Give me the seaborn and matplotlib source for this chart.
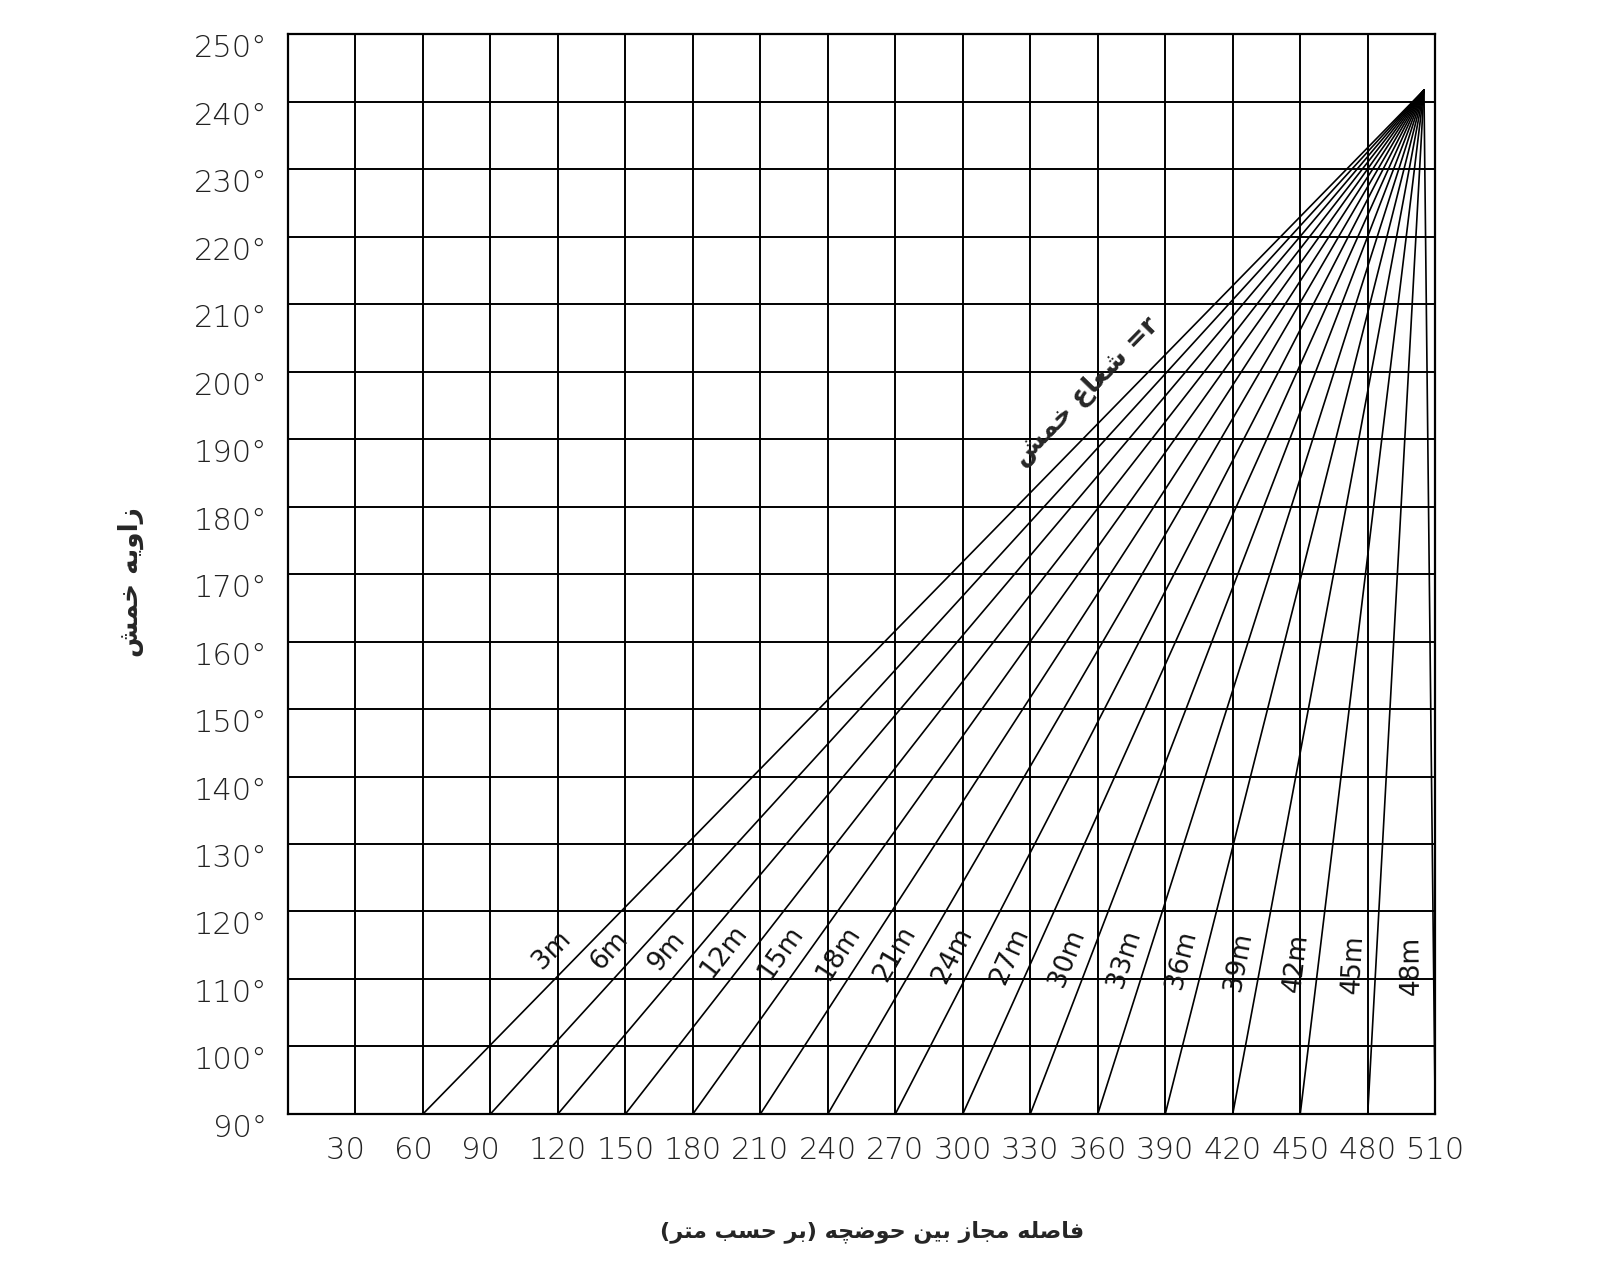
import numpy as np
import pandas as pd
import matplotlib
matplotlib.use("Agg")
import matplotlib.pyplot as plt
import seaborn as sns

# داده ها
x_ticks = [30, 60, 90, 120, 150, 180, 210, 240, 270, 300, 330, 360, 390, 420, 450, 480, 510]
y_ticks = [90, 100, 110, 120, 130, 140, 150, 160, 170, 180, 190, 200, 210, 220, 230, 240, 250]
radii = ["3m", "6m", "9m", "12m", "15m", "18m", "21m", "24m", "27m", "30m",
         "33m", "36m", "39m", "42m", "45m", "48m"]
start_dist = [60, 90, 120, 150, 180, 210, 240, 270, 300, 330, 360, 390, 420, 450, 480, 510]
apex_dist = 505
apex_angle = 241.7
label_angle = 112.0

x_title = "فاصله مجاز بین حوضچه (بر حسب متر)"
y_title = "زاویه خمش"
r_title = "شعاع خمش"

# شکل دهی ساده حروف عربی/فارسی (matplotlib خودش این کار را نمی کند)
FORMS = {
    "ا": ("\uFE8D", "\uFE8E", None, None),
    "ب": ("\uFE8F", "\uFE90", "\uFE91", "\uFE92"),
    "ت": ("\uFE95", "\uFE96", "\uFE97", "\uFE98"),
    "ج": ("\uFE9D", "\uFE9E", "\uFE9F", "\uFEA0"),
    "ح": ("\uFEA1", "\uFEA2", "\uFEA3", "\uFEA4"),
    "خ": ("\uFEA5", "\uFEA6", "\uFEA7", "\uFEA8"),
    "ر": ("\uFEAD", "\uFEAE", None, None),
    "ز": ("\uFEAF", "\uFEB0", None, None),
    "س": ("\uFEB1", "\uFEB2", "\uFEB3", "\uFEB4"),
    "ش": ("\uFEB5", "\uFEB6", "\uFEB7", "\uFEB8"),
    "ص": ("\uFEB9", "\uFEBA", "\uFEBB", "\uFEBC"),
    "ض": ("\uFEBD", "\uFEBE", "\uFEBF", "\uFEC0"),
    "ع": ("\uFEC9", "\uFECA", "\uFECB", "\uFECC"),
    "ف": ("\uFED1", "\uFED2", "\uFED3", "\uFED4"),
    "ل": ("\uFEDD", "\uFEDE", "\uFEDF", "\uFEE0"),
    "م": ("\uFEE1", "\uFEE2", "\uFEE3", "\uFEE4"),
    "ن": ("\uFEE5", "\uFEE6", "\uFEE7", "\uFEE8"),
    "ه": ("\uFEE9", "\uFEEA", "\uFEEB", "\uFEEC"),
    "و": ("\uFEED", "\uFEEE", None, None),
    "ی": ("\uFBFC", "\uFBFD", "\uFBFE", "\uFBFF"),
    "چ": ("\uFB7A", "\uFB7B", "\uFB7C", "\uFB7D"),
}
MIRROR = {"(": ")", ")": "("}


def shape_word(word):
    out = []
    for i, ch in enumerate(word):
        if ch not in FORMS:
            out.append(ch)
            continue
        prev = word[i - 1] if i > 0 else None
        nxt = word[i + 1] if i < len(word) - 1 else None
        join_prev = prev in FORMS and FORMS[prev][2] is not None
        join_next = nxt in FORMS and FORMS[ch][2] is not None
        f = FORMS[ch]
        if join_prev and join_next:
            out.append(f[3])
        elif join_prev:
            out.append(f[1])
        elif join_next:
            out.append(f[2])
        else:
            out.append(f[0])
    return "".join(MIRROR.get(c, c) for c in reversed(out))


def rtl(text):
    return " ".join(shape_word(w) for w in reversed(text.split(" ")))


rows = []
for r, s in zip(radii, start_dist):
    rows.append({"radius": r, "dist": s, "angle": 90})
    rows.append({"radius": r, "dist": apex_dist, "angle": apex_angle})
df = pd.DataFrame(rows)

sns.set_style("white")
plt.rcParams["font.family"] = ["DejaVu Sans"]

fig = plt.figure(figsize=(16, 12.8), dpi=100)
ax = fig.add_axes([0.18, 0.1297, 0.717, 0.8437])

sns.lineplot(data=df, x="dist", y="angle", units="radius", estimator=None,
             sort=False, color="black", linewidth=1.2, legend=False, ax=ax)

ax.set_xlim(0, 510)
ax.set_ylim(90, 250)
ax.set_xticks(x_ticks)
ax.set_yticks(y_ticks)
# برچسب های دو رقمی مثل نقشه اصلی کمی به چپ
ax.set_xticklabels([str(v) + ("\u2007" if v < 100 else "") for v in x_ticks])
ax.set_yticklabels([f"{v}°" for v in y_ticks], va="top")
ax.tick_params(axis="both", length=0, labelsize=22, colors="#222222")
ax.tick_params(axis="x", pad=16)
ax.tick_params(axis="y", pad=15)
for lab in ax.get_xticklabels() + ax.get_yticklabels():
    lab.set_fontweight("light")
ax.grid(True, color="black", linewidth=1.4)
for sp in ax.spines.values():
    sp.set_visible(True)
    sp.set_color("black")
    sp.set_linewidth(1.6)
ax.set_xlabel("")
ax.set_ylabel("")

# برچسب شعاع ها روی خطوط
fig.canvas.draw()
for r, s in zip(radii, start_dist):
    t = (label_angle - 90) / (apex_angle - 90)
    px = s + t * (apex_dist - s)
    p0 = ax.transData.transform((s, 90))
    p1 = ax.transData.transform((apex_dist, apex_angle))
    ang = np.degrees(np.arctan2(p1[1] - p0[1], p1[0] - p0[0]))
    off = 16
    nx, ny = -np.sin(np.radians(ang)) * off, np.cos(np.radians(ang)) * off
    ax.annotate(r, (px, label_angle), xytext=(nx, ny), textcoords="offset points",
                rotation=ang, rotation_mode="anchor", ha="center", va="center",
                fontsize=19, color="#111111")

# متن r= شعاع خمش
p0 = ax.transData.transform((start_dist[0], 90))
p1 = ax.transData.transform((apex_dist, apex_angle))
ang0 = np.degrees(np.arctan2(p1[1] - p0[1], p1[0] - p0[0]))
ax.text(355, 197, rtl(r_title) + " =r", rotation=ang0, rotation_mode="anchor",
        ha="center", va="center", fontsize=19, fontweight="bold")

fig.text(0.545, 0.038, rtl(x_title), ha="center", va="center",
         fontsize=16, fontweight="bold")
fig.text(0.082, 0.545, rtl(y_title), ha="center", va="center",
         rotation=90, fontsize=19, fontweight="bold")

fig.savefig("out.png", dpi=100)
